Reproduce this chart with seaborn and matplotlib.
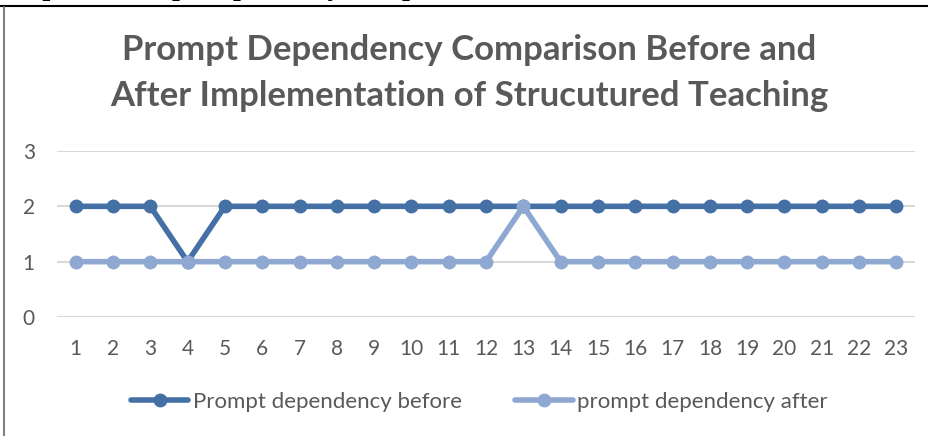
import matplotlib
matplotlib.use("Agg")
import matplotlib.pyplot as plt
from matplotlib.lines import Line2D
import pandas as pd
import seaborn as sns

sessions = list(range(1, 24))
before = [2, 2, 2, 1, 2, 2, 2, 2, 2, 2, 2, 2, 2, 2, 2, 2, 2, 2, 2, 2, 2, 2, 2]
after = [1, 1, 1, 1, 1, 1, 1, 1, 1, 1, 1, 1, 2, 1, 1, 1, 1, 1, 1, 1, 1, 1, 1]
labels = ["Prompt dependency before", "prompt dependency after"]
colors = ["#4470A6", "#8EA8D2"]

df = pd.DataFrame({"session": sessions * 2,
                   "score": before + after,
                   "series": [labels[0]] * 23 + [labels[1]] * 23})

sns.set_theme(style="white")
plt.rcParams["font.family"] = ["Lato", "DejaVu Sans"]

fig = plt.figure(figsize=(9.29, 4.36), dpi=100)
ax = fig.add_axes([0.0614, 0.2729, 0.9236, 0.3808])

sns.lineplot(data=df, x="session", y="score", hue="series", palette=colors,
             marker="o", markersize=10, markeredgewidth=0, linewidth=4,
             legend=False, ax=ax)

ax.set_xlim(0.5, 23.5)
ax.set_ylim(0, 3)
ax.set_yticks([0, 1, 2, 3])
ax.set_xticks(sessions)
ax.set_xlabel("")
ax.set_ylabel("")
ax.yaxis.grid(True, color="#D9D9D9", linewidth=1.5)
ax.set_axisbelow(True)
for s in ax.spines.values():
    s.set_visible(False)
ax.tick_params(axis="both", length=0, labelsize=15, labelcolor="#595959")
ax.tick_params(axis="y", pad=16)
ax.tick_params(axis="x", pad=16)

fig.text(0.505, 0.833, "Prompt Dependency Comparison Before and\nAfter Implementation of Strucutured Teaching",
         ha="center", va="center", fontsize=25, fontweight="bold", color="#595959",
         linespacing=1.52)

handles = [Line2D([], [], color=c, marker="o", markersize=10, linewidth=4,
                  markeredgewidth=0) for c in colors]
fig.legend(handles, labels, loc="center", bbox_to_anchor=(0.516, 0.078), ncol=2,
           frameon=False, fontsize=16, labelcolor="#595959", handlelength=2.6,
           handletextpad=0.2, columnspacing=2.4)

# caption above the chart frame, cut off by the image edge as in the source
fig.text(0.0, 1.0 + 5 / 436, "Graph 1: Prompt Dependency Comparison",
         ha="left", va="baseline", fontsize=20, fontweight="bold", fontstyle="italic",
         family=["Liberation Serif"], color="black")

# chart frame
fig.add_artist(Line2D([0, 1], [1 - 6 / 436, 1 - 6 / 436], color="black", linewidth=1.5))
fig.add_artist(Line2D([4.5 / 929, 4.5 / 929], [0, 1 - 7 / 436], color="#7F7F7F", linewidth=1.5))

fig.savefig("out.png", dpi=100)
